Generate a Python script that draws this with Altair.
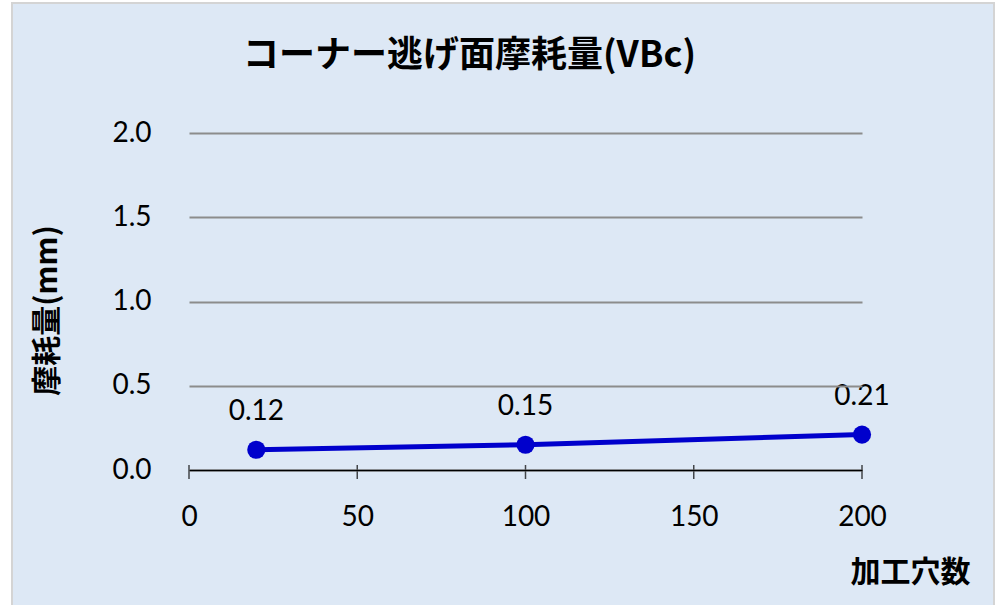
import altair as alt
import pandas as pd

holes = [20, 100, 200]
wear = [0.12, 0.15, 0.21]
x_ticks = [0, 50, 100, 150, 200]
y_ticks = [0, 0.5, 1.0, 1.5, 2.0]

df = pd.DataFrame({"holes": holes, "wear": wear})
tick_df = pd.DataFrame({"holes": x_ticks, "wear": [0] * len(x_ticks)})
frame_df = pd.DataFrame({"a": [0]})

BLUE = "#0000cc"
NUM_FONT = "Lato"
JP_FONT = "Noto Sans CJK JP"

xscale = alt.Scale(domain=[0, 200], nice=False, zero=True)
yscale = alt.Scale(domain=[0, 2], nice=False)

x_enc = alt.X("holes:Q", scale=xscale, axis=alt.Axis(
    values=x_ticks, ticks=False, grid=False, domainColor="black", domainWidth=1.5,
    labelFont=NUM_FONT, labelFontSize=28, labelColor="black", labelPadding=33,
    labelFlush=False, title="加工穴数", titleX=721, titleY=102, titleAlign="center",
    titleBaseline="middle", titleFont=JP_FONT, titleFontSize=30, titleFontWeight="bold",
    titleColor="black", zindex=1))
y_enc = alt.Y("wear:Q", scale=yscale, axis=alt.Axis(
    values=y_ticks, format=".1f", ticks=False, domain=False, grid=True,
    gridColor="#8c8c8c", gridWidth=2, labelFont=NUM_FONT, labelFontSize=28,
    labelColor="black", labelPadding=38, title="摩耗量(mm)", titleX=-142, titleY=177,
    titleAngle=270, titleAlign="center", titleBaseline="middle", titleFont=JP_FONT,
    titleFontSize=30, titleFontWeight="bold", titleColor="black", zindex=1))

frame = alt.Chart(frame_df).mark_rect(fill="#dde8f5", stroke="#d4d4d4", strokeWidth=2).encode(
    x=alt.value(-177), x2=alt.value(805), y=alt.value(-130), y2=alt.value(485))

base = alt.Chart(df)
line = base.mark_line(color=BLUE, strokeWidth=5).encode(x=x_enc, y=y_enc)
pts = base.mark_circle(size=330, color=BLUE, opacity=1).encode(x="holes:Q", y="wear:Q")
labels = base.mark_text(dy=-38, fontSize=28, font=NUM_FONT, color="black", baseline="middle").encode(
    x="holes:Q", y="wear:Q", text=alt.Text("wear:Q", format=".2f"))
ticks = alt.Chart(tick_df).mark_tick(orient="vertical", size=14, thickness=1.5, color="black", yOffset=2).encode(
    x="holes:Q", y="wear:Q")

chart = alt.layer(frame, line, pts, labels, ticks).properties(
    width=673, height=337,
    title=alt.TitleParams("コーナー逃げ面摩耗量(VBc)", font=JP_FONT, fontSize=36, fontWeight="bold",
                          color="black", anchor="middle", frame="group", dx=-56, offset=0, dy=73, zindex=1),
    autosize=alt.AutoSizeParams(type="none"),
    padding={"left": 189, "top": 133, "right": 138, "bottom": 135},
    background="white",
).configure_view(stroke=None)

chart.save("out.html", embed_options={"renderer": "svg", "actions": False})
